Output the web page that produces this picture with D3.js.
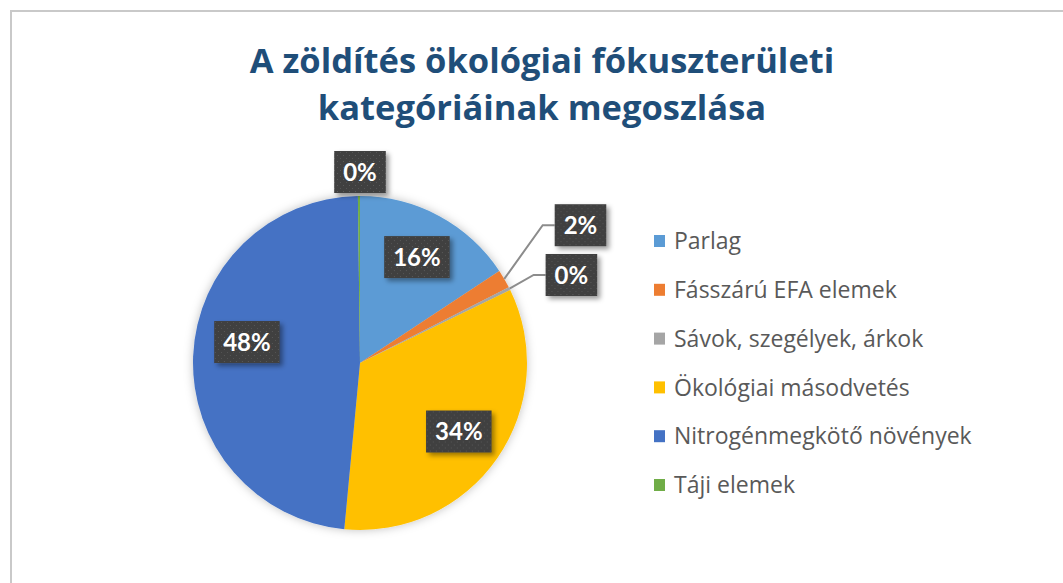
<!DOCTYPE html>
<html lang="hu">
<head>
<meta charset="UTF-8">
<title>Ökológiai fókuszterület</title>
<style>
  body { margin: 0; background: #fff; }
  svg { display: block; font-family: Lato, "Open Sans", sans-serif; }
</style>
</head>
<body>
<script src="https://cdn.jsdelivr.net/npm/d3@7/dist/d3.min.js"></script>
<script>
// adatok
const categories = ['Parlag', 'Fásszárú EFA elemek', 'Sávok, szegélyek, árkok',
  'Ökológiai másodvetés', 'Nitrogénmegkötő növények', 'Táji elemek'];
const values = [15.7, 1.8, 0.3, 33.7, 48.3, 0.2];
const colors = ['#5b9bd5', '#ed7d31', '#a5a5a5', '#ffc000', '#4472c4', '#70ad47'];
const titleLines = ['A zöldítés ökológiai fókuszterületi', 'kategóriáinak megoszlása'];

const W = 1063, H = 583;
const cx = 360, cy = 363, R = 167;

const svg = d3.select('body').append('svg')
  .attr('width', W).attr('height', H);

const defs = svg.append('defs');
const pieShadow = defs.append('filter').attr('id', 'pieShadow')
  .attr('x', '-20%').attr('y', '-20%').attr('width', '140%').attr('height', '140%');
pieShadow.append('feDropShadow').attr('dx', 0).attr('dy', 0)
  .attr('stdDeviation', 5).attr('flood-color', '#000').attr('flood-opacity', 0.25);
const boxShadow = defs.append('filter').attr('id', 'boxShadow')
  .attr('x', '-30%').attr('y', '-30%').attr('width', '170%').attr('height', '170%');
boxShadow.append('feDropShadow').attr('dx', 3).attr('dy', 3)
  .attr('stdDeviation', 2.5).attr('flood-color', '#000').attr('flood-opacity', 0.4);
const dots = defs.append('pattern').attr('id', 'dots')
  .attr('patternUnits', 'userSpaceOnUse').attr('width', 6).attr('height', 6);
dots.append('rect').attr('width', 6).attr('height', 6).attr('fill', '#404040');
dots.append('rect').attr('x', 1).attr('y', 1).attr('width', 1).attr('height', 1).attr('fill', '#5a5a5a');
dots.append('rect').attr('x', 4).attr('y', 4).attr('width', 1).attr('height', 1).attr('fill', '#555');

// keret
svg.append('path')
  .attr('d', `M11,${H} L11,11 L${W},11`)
  .attr('fill', 'none').attr('stroke', '#c9c9c9').attr('stroke-width', 2);

// cím
svg.append('text')
  .attr('x', 542).attr('y', 73)
  .attr('text-anchor', 'middle')
  .attr('font-family', '"Open Sans", Lato, sans-serif')
  .attr('font-size', 34.5).attr('font-weight', 'bold').attr('fill', '#1f4e79')
  .selectAll('tspan').data(titleLines).join('tspan')
  .attr('x', 542).attr('dy', (d, i) => i ? 47 : 0)
  .text(d => d);

// kör
const pie = d3.pie().sort(null).value(d => d);
const arcs = pie(values);
const arc = d3.arc().innerRadius(0).outerRadius(R);
const g = svg.append('g').attr('transform', `translate(${cx},${cy})`);
g.append('g').attr('filter', 'url(#pieShadow)')
  .selectAll('path').data(arcs).join('path')
  .attr('d', arc)
  .attr('fill', (d, i) => colors[i]);

// címkék elhelyezése: belső / külső (vezetővonallal)
const inner = d3.arc().innerRadius(R * 0.72).outerRadius(R * 0.72);
const placed = {
  1: { r: 260, a: 58, leader: true },
  2: { r: 229, a: 67.4, leader: true },
  4: { r: 115, a: 280.5, leader: false },
  5: { r: 191, a: 0, leader: false }
};
const rad = a => a * Math.PI / 180;
const labels = arcs.map((d, i) => {
  const txt = Math.round(values[i]) + '%';
  if (placed[i]) {
    const o = placed[i];
    return { i, txt, x: o.r * Math.sin(rad(o.a)), y: -o.r * Math.cos(rad(o.a)), o, d };
  }
  const [x, y] = inner.centroid(d);
  return { i, txt, x, y, d };
});

const lg = g.selectAll('g.lbl').data(labels).join('g')
  .attr('class', 'lbl')
  .attr('transform', d => `translate(${d.x},${d.y})`);
lg.append('text')
  .attr('text-anchor', 'middle').attr('dy', '0.36em')
  .attr('font-size', 24).attr('font-weight', 'bold').attr('fill', '#fff')
  .text(d => d.txt)
  .each(function (d) { d.w = this.getComputedTextLength(); });
lg.insert('rect', 'text')
  .attr('x', d => -d.w / 2 - 9).attr('y', -21)
  .attr('width', d => d.w + 18).attr('height', 42)
  .attr('fill', 'url(#dots)').attr('filter', 'url(#boxShadow)');

// vezetővonalak
labels.filter(l => l.o && l.o.leader).forEach(l => {
  const mid = (l.d.startAngle + l.d.endAngle) / 2;
  const p0 = [R * Math.sin(mid), -R * Math.cos(mid)];
  const boxL = l.x - l.w / 2 - 9;
  g.insert('polyline', 'g.lbl')
    .attr('points', [p0, [boxL - 12, l.y], [boxL, l.y]].map(p => p.join(',')).join(' '))
    .attr('fill', 'none').attr('stroke', '#8c8c8c').attr('stroke-width', 2);
});

// jelmagyarázat
const leg = svg.append('g').attr('transform', 'translate(654,241)');
const row = leg.selectAll('g').data(categories).join('g')
  .attr('transform', (d, i) => `translate(0,${i * 48.8})`);
row.append('rect').attr('x', 0).attr('y', -6).attr('width', 11).attr('height', 12)
  .attr('fill', (d, i) => colors[i]);
row.append('text').attr('x', 20).attr('dy', '0.36em')
  .attr('font-family', '"Open Sans", Lato, sans-serif')
  .attr('font-size', 23).attr('fill', '#595959')
  .text(d => d);
</script>
</body>
</html>
